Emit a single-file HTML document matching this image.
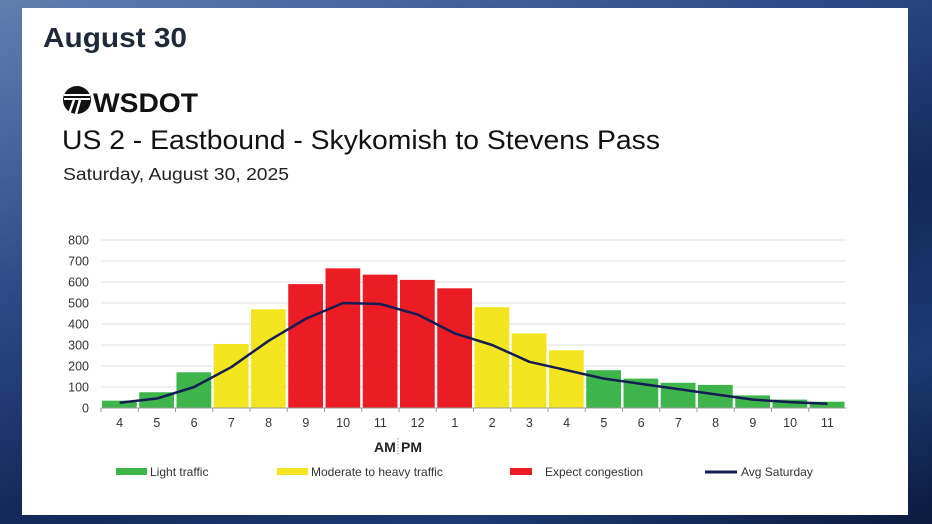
<!DOCTYPE html>
<html><head><meta charset="utf-8"><style>
html,body{margin:0;padding:0;width:932px;height:524px;overflow:hidden}
body{background:linear-gradient(160deg,#5f7fb0 0%,#2c4a86 35%,#14285a 60%,#1d3a72 80%,#0b1a3e 100%);font-family:"Liberation Sans",sans-serif}
#card{position:absolute;left:22px;top:8px;width:886px;height:507px;background:#fff}
</style></head><body>
<div id="card"></div>
<svg id="s" width="932" height="524" style="position:absolute;left:0;top:0" font-family="Liberation Sans, sans-serif">
<text x="43" y="47" font-size="28" fill="#1e2a3a" font-weight="bold" textLength="144" lengthAdjust="spacingAndGlyphs">August 30</text>
<g transform="translate(62,86)">
<circle cx="15" cy="14" r="14" fill="#111"/>
<path d="M2 9 H28 M2 13 H28" stroke="#fff" stroke-width="2"/>
<path d="M12 14 L7 28 M18 14 L14 28" stroke="#fff" stroke-width="2.5"/>
</g>
<text x="93" y="112" font-size="27" font-weight="bold" fill="#111" textLength="105" lengthAdjust="spacingAndGlyphs">WSDOT</text>
<text x="62" y="149" font-size="27" fill="#111" textLength="598" lengthAdjust="spacingAndGlyphs">US 2 - Eastbound - Skykomish to Stevens Pass</text>
<text x="63" y="180" font-size="17.5" fill="#222" textLength="226" lengthAdjust="spacingAndGlyphs">Saturday, August 30, 2025</text>
<g id="chart"></g>
<text x="374" y="452" font-size="14" font-weight="bold" fill="#222">AM</text>
<line x1="398" y1="438" x2="398" y2="456" stroke="#888" stroke-dasharray="1.5,1.5"/>
<text x="401" y="452" font-size="14" font-weight="bold" fill="#222">PM</text>
<rect x="116" y="468" width="31" height="7" fill="#3db54a"/>
<text x="150" y="476" font-size="12" fill="#333">Light traffic</text>
<rect x="277" y="468" width="31" height="7" fill="#f3e620"/>
<text x="311" y="476" font-size="12" fill="#333">Moderate to heavy traffic</text>
<rect x="510" y="468" width="22" height="7" fill="#ec1c24"/>
<text x="545" y="476" font-size="12" fill="#333">Expect congestion</text>
<line x1="705" y1="472" x2="737" y2="472" stroke="#141c55" stroke-width="3"/>
<text x="741" y="476" font-size="12" fill="#333">Avg Saturday</text>
</svg>
<script>
var g=document.getElementById('chart'),h='';
var x0=101,w=37.25;function y(v){return 408-v*0.21}
for(var i=0;i<=8;i++){var yy=y(i*100);
h+='<line x1="101" y1="'+yy+'" x2="846" y2="'+yy+'" stroke="#e2e2e2" stroke-width="1"/>';
h+='<text x="89" y="'+(yy+4.5)+'" font-size="12.5" fill="#333" text-anchor="end">'+(i*100)+'</text>';}
var vals=[35,75,170,305,470,590,665,635,610,570,480,355,275,180,140,120,110,60,40,30];
var col=['g','g','g','y','y','r','r','r','r','r','y','y','y','g','g','g','g','g','g','g'];
var C={g:'#3db54a',y:'#f3e620',r:'#ec1c24'};
var labs=[4,5,6,7,8,9,10,11,12,1,2,3,4,5,6,7,8,9,10,11];
for(var i=0;i<20;i++){var bx=x0+i*w+1;
h+='<rect x="'+bx+'" y="'+y(vals[i])+'" width="'+(w-2.5)+'" height="'+(vals[i]*0.21)+'" fill="'+C[col[i]]+'"/>';
h+='<text x="'+(x0+i*w+w/2)+'" y="427" font-size="12.5" fill="#333" text-anchor="middle">'+labs[i]+'</text>';
h+='<line x1="'+(x0+i*w)+'" y1="408" x2="'+(x0+i*w)+'" y2="412" stroke="#999"/>';}
h+='<line x1="101" y1="408" x2="846" y2="408" stroke="#999"/>';
var avg=[25,45,100,195,320,425,500,495,445,355,300,220,180,140,115,90,65,40,28,20];
var p='';for(var i=0;i<20;i++){p+=(i?'L':'M')+(x0+i*w+w/2)+' '+y(avg[i])+' ';}
h+='<path d="'+p+'" fill="none" stroke="#141c55" stroke-width="2.5" stroke-linejoin="round"/>';
g.innerHTML=h;
</script>
</body></html>
